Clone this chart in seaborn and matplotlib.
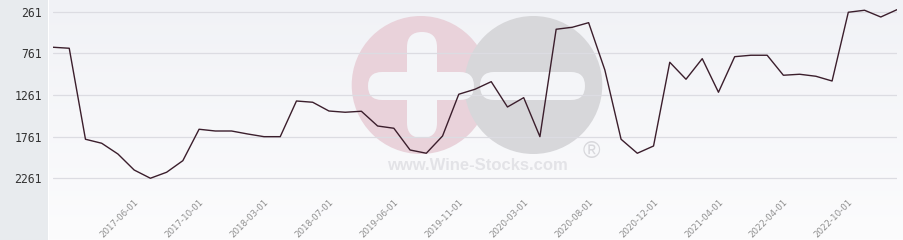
import numpy as np
import pandas as pd
import matplotlib
matplotlib.use("Agg")
import matplotlib.pyplot as plt
import matplotlib.transforms as mtransforms
from matplotlib.patches import Circle, FancyBboxPatch, Rectangle
from matplotlib.colors import LinearSegmentedColormap
import seaborn as sns

# ---- data ----
dates = [
    "2017-01-01", "2017-02-01", "2017-03-01", "2017-04-01", "2017-05-01",
    "2017-06-01", "2017-07-01", "2017-08-01", "2017-09-01", "2017-10-01",
    "2017-11-01", "2017-12-01", "2018-01-01", "2018-03-01", "2018-04-01",
    "2018-05-01", "2018-06-01", "2018-07-01", "2018-09-01", "2018-12-01",
    "2019-02-01", "2019-06-01", "2019-07-01", "2019-08-01", "2019-09-01",
    "2019-11-01", "2019-12-01", "2020-01-01", "2020-02-01", "2020-03-01",
    "2020-05-01", "2020-06-01", "2020-07-01", "2020-08-01", "2020-09-01",
    "2020-10-01", "2020-11-01", "2020-12-01", "2021-01-01", "2021-02-01",
    "2021-03-01", "2021-04-01", "2021-06-01", "2021-09-01", "2022-01-01",
    "2022-04-01", "2022-05-01", "2022-06-01", "2022-08-01", "2022-10-01",
    "2022-11-01", "2022-12-01", "2023-01-01",
]
ranks = [
    688, 700, 1792, 1840, 1969, 2161, 2260, 2188, 2049, 1672,
    1693, 1693, 1729, 1761, 1761, 1333, 1348, 1453, 1468, 1456,
    1633, 1660, 1921, 1960, 1753, 1252, 1192, 1101, 1405, 1293,
    1761, 472, 448, 393, 961, 1792, 1960, 1873, 868, 1072,
    825, 1228, 801, 784, 784, 1024, 1012, 1036, 1093, 268,
    244, 325, 237,
]
y_ticks = [261, 761, 1261, 1761, 2261]
shown_labels = ["2017-06-01", "2017-10-01", "2018-03-01", "2018-07-01",
                "2019-06-01", "2019-11-01", "2020-03-01", "2020-08-01",
                "2020-12-01", "2021-04-01", "2022-04-01", "2022-10-01"]

df = pd.DataFrame({"date": dates, "rank": ranks})

W, H = 904, 240
fig = plt.figure(figsize=(W / 100, H / 100), dpi=100)
fig.patch.set_facecolor("white")

# ---- background layer (pixel coordinates) ----
bg = fig.add_axes([0, 0, 1, 1], zorder=0)
bg.set_xlim(0, W)
bg.set_ylim(H, 0)
bg.axis("off")

cmap = LinearSegmentedColormap.from_list("bgg", ["#f1f2f6", "#fcfcfd"])
grad = np.linspace(0, 1, 240).reshape(-1, 1)
bg.imshow(grad, extent=(49, W, H, 0), aspect="auto", cmap=cmap, zorder=0)
bg.add_patch(Rectangle((0, 0), 48, H, color="#e8ebee", zorder=1, lw=0))

# watermark logo
bg.add_patch(Circle((420.7, 85), 69, color="#e9d2da", lw=0, zorder=2))
bg.add_patch(Circle((533.3, 85), 69, color="#d7d7da", lw=0, zorder=3))
hole = "#f4f5f8"
bg.add_patch(FancyBboxPatch((407, 32), 30, 106, boxstyle="round,pad=0,rounding_size=15",
                            color=hole, lw=0, zorder=4))
bg.add_patch(FancyBboxPatch((368, 72), 106, 28, boxstyle="round,pad=0,rounding_size=14",
                            color=hole, lw=0, zorder=4))
bg.add_patch(FancyBboxPatch((480, 72), 105, 28, boxstyle="round,pad=0,rounding_size=14",
                            color=hole, lw=0, zorder=4))
bg.text(477, 166, "www.Wine-Stocks.com", ha="center", va="center", fontsize=12,
        fontweight="bold", color="#e3e3e7", family="Liberation Sans", zorder=5)
bg.text(591, 152, "®", ha="center", va="center", fontsize=17,
        color="#d8d8dc", family="Liberation Sans", zorder=5)

# ---- main chart ----
sns.set_style("white")
ax = fig.add_axes([53 / W, 1 - 198 / H, 844 / W, 198 / H], zorder=1)
ax.set_facecolor("none")

sns.lineplot(data=df, x="date", y="rank", ax=ax, color="#3b1e2c", linewidth=1.0,
             sort=False, estimator=None)

ax.set_xlim(0, len(dates) - 1)
ax.set_ylim(2497, 121)
ax.set_yticks(y_ticks)
ax.set_yticklabels([str(v) for v in y_ticks], family="DejaVu Sans Mono",
                   fontsize=8.3, color="#333333")
ax.yaxis.grid(True, color="#dcdce2", linewidth=0.9)
ax.xaxis.grid(False)

pos = [dates.index(d) for d in shown_labels]
ax.set_xticks(pos)
ax.set_xticklabels(shown_labels, rotation=45, ha="right", va="top",
                   rotation_mode="anchor", fontsize=6.2, color="#8e8e8e")
offset = mtransforms.ScaledTranslation(4 / 100, 3 / 100, fig.dpi_scale_trans)
for lab in ax.get_xticklabels():
    lab.set_transform(lab.get_transform() + offset)

ax.tick_params(axis="both", length=0)
ax.tick_params(axis="y", pad=8)
ax.tick_params(axis="x", pad=0)
ax.set_xlabel("")
ax.set_ylabel("")
for s in ax.spines.values():
    s.set_visible(False)

fig.savefig("out.png", dpi=100)
